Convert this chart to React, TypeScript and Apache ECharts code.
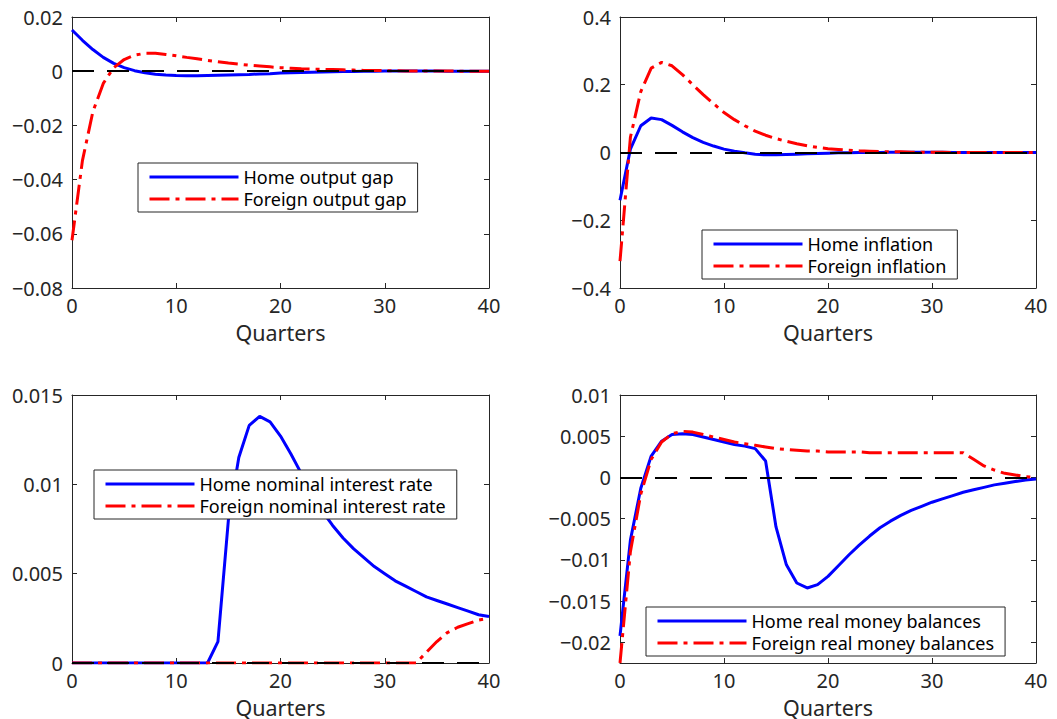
import React, { useEffect, useRef } from 'react';
import * as echarts from 'echarts';

// ---------- data ----------
const QUARTERS: number[] = Array.from({ length: 41 }, (_, i) => i);

const HOME_OUTPUT_GAP = [
  0.0152, 0.0114, 0.0080, 0.0051, 0.0029, 0.0013, 0.0002, -0.0006, -0.0011, -0.0014, -0.0016,
  -0.0017, -0.0017, -0.0016, -0.0015, -0.0014, -0.0013, -0.0012, -0.0010, -0.0009, -0.0007,
  -0.0006, -0.0005, -0.0004, -0.0003, -0.0002, -0.0001, -0.0001, 0.0, 0.0, 0.0001,
  0.0001, 0.0001, 0.0001, 0.0001, 0.0001, 0.0, 0.0, 0.0, 0.0, 0.0,
];
const FOREIGN_OUTPUT_GAP = [
  -0.0624, -0.0330, -0.0150, -0.0045, 0.0013, 0.0043, 0.0059, 0.0066, 0.0066, 0.0062, 0.0057,
  0.0051, 0.0046, 0.0040, 0.0035, 0.0030, 0.0026, 0.0022, 0.0019, 0.0016, 0.0013,
  0.0011, 0.0009, 0.0008, 0.0007, 0.0006, 0.0005, 0.0004, 0.0003, 0.0003, 0.0002,
  0.0002, 0.0001, 0.0001, 0.0001, 0.0001, 0.0001, 0.0, 0.0, 0.0, 0.0,
];
const HOME_INFLATION = [
  -0.141, 0.010, 0.079, 0.102, 0.097, 0.080, 0.061, 0.044, 0.030, 0.019, 0.010,
  0.004, -0.001, -0.005, -0.007, -0.007, -0.006, -0.005, -0.004, -0.003, -0.002,
  -0.001, -0.001, 0.0, 0.0, 0.0, 0.001, 0.001, 0.001, 0.001, 0.001,
  0.001, 0.0, 0.0, 0.0, 0.0, 0.0, 0.0, 0.0, 0.0, 0.0,
];
const FOREIGN_INFLATION = [
  -0.321, 0.045, 0.180, 0.249, 0.266, 0.256, 0.230, 0.200, 0.171, 0.144, 0.118,
  0.097, 0.079, 0.063, 0.051, 0.041, 0.033, 0.026, 0.020, 0.015, 0.011,
  0.009, 0.007, 0.005, 0.004, 0.003, 0.002, 0.002, 0.001, 0.001, 0.001,
  0.001, 0.0, 0.0, 0.0, 0.0, 0.0, 0.0, 0.0, 0.0, 0.0,
];
const HOME_NOMINAL_RATE = [
  0, 0, 0, 0, 0, 0, 0, 0, 0, 0, 0,
  0, 0, 0, 0.0012, 0.0080, 0.0115, 0.0133, 0.0138, 0.0135, 0.0127,
  0.0117, 0.0106, 0.0095, 0.0085, 0.0077, 0.0070, 0.0064, 0.0059, 0.0054, 0.0050,
  0.0046, 0.0043, 0.0040, 0.0037, 0.0035, 0.0033, 0.0031, 0.0029, 0.0027, 0.0026,
];
const FOREIGN_NOMINAL_RATE = [
  0, 0, 0, 0, 0, 0, 0, 0, 0, 0, 0,
  0, 0, 0, 0, 0, 0, 0, 0, 0, 0,
  0, 0, 0, 0, 0, 0, 0, 0, 0, 0,
  0, 0, 0, 0.0006, 0.0012, 0.0017, 0.0020, 0.0022, 0.0024, 0.0025,
];
const HOME_REAL_MONEY = [
  -0.0192, -0.0076, -0.0013, 0.0026, 0.0044, 0.0052, 0.0053, 0.0052, 0.0049, 0.0046, 0.0043,
  0.0040, 0.0038, 0.0035, 0.0020, -0.0060, -0.0106, -0.0128, -0.0134, -0.0130, -0.0120,
  -0.0107, -0.0094, -0.0082, -0.0071, -0.0061, -0.0053, -0.0046, -0.0040, -0.0035, -0.0030,
  -0.0026, -0.0022, -0.0018, -0.0015, -0.0012, -0.0009, -0.0007, -0.0005, -0.0003, -0.0002,
];
const FOREIGN_REAL_MONEY = [
  -0.0225, -0.0090, -0.0020, 0.0022, 0.0043, 0.0053, 0.0056, 0.0055, 0.0052, 0.0049, 0.0046,
  0.0043, 0.0041, 0.0039, 0.0037, 0.0035, 0.0034, 0.0033, 0.0032, 0.0032, 0.0031,
  0.0031, 0.0031, 0.0031, 0.0030, 0.0030, 0.0030, 0.0030, 0.0030, 0.0030, 0.0030,
  0.0030, 0.0030, 0.0030, 0.0022, 0.0014, 0.0009, 0.0005, 0.0003, 0.0001, 0.0,
];

const X_TICKS = [0, 10, 20, 30, 40];
const Y_TICKS_OUTPUT = [-0.08, -0.06, -0.04, -0.02, 0, 0.02];
const Y_TICKS_INFLATION = [-0.4, -0.2, 0, 0.2, 0.4];
const Y_TICKS_RATE = [0, 0.005, 0.01, 0.015];
const Y_TICKS_MONEY = [-0.02, -0.015, -0.01, -0.005, 0, 0.005, 0.01];

const X_LABEL = 'Quarters';

// ---------- styling ----------
const FONT = '"Noto Sans", "DejaVu Sans", sans-serif';
const AXIS_COLOR = '#262626';
const BLUE = '#0000FF';
const RED = '#FF0000';

function fmt(v: number): string {
  const r = Math.round(v * 1e6) / 1e6;
  if (Math.abs(r) < 1e-12) return '0';
  return String(r).replace('-', '\u2212');
}

type Panel = {
  grid: { left: number; top: number; width: number; height: number };
  yTicks: number[];
  yMin: number;
  yMax: number;
  home: number[];
  foreign: number[];
  homeName: string;
  foreignName: string;
  legendPos: { left: number; top: number };
};

const PANELS: Panel[] = [
  {
    grid: { left: 72, top: 17, width: 417, height: 271 },
    yTicks: Y_TICKS_OUTPUT, yMin: -0.08, yMax: 0.02,
    home: HOME_OUTPUT_GAP, foreign: FOREIGN_OUTPUT_GAP,
    homeName: 'Home output gap', foreignName: 'Foreign output gap',
    legendPos: { left: 138, top: 163 },
  },
  {
    grid: { left: 620, top: 17, width: 416, height: 271 },
    yTicks: Y_TICKS_INFLATION, yMin: -0.4, yMax: 0.4,
    home: HOME_INFLATION, foreign: FOREIGN_INFLATION,
    homeName: 'Home inflation', foreignName: 'Foreign inflation',
    legendPos: { left: 702, top: 230 },
  },
  {
    grid: { left: 72, top: 395, width: 417, height: 271 },
    yTicks: Y_TICKS_RATE, yMin: 0, yMax: 0.015,
    home: HOME_NOMINAL_RATE, foreign: FOREIGN_NOMINAL_RATE,
    homeName: 'Home nominal interest rate', foreignName: 'Foreign nominal interest rate',
    legendPos: { left: 94, top: 470 },
  },
  {
    grid: { left: 620, top: 395, width: 416, height: 271 },
    yTicks: Y_TICKS_MONEY, yMin: -0.0225, yMax: 0.01,
    home: HOME_REAL_MONEY, foreign: FOREIGN_REAL_MONEY,
    homeName: 'Home real money balances', foreignName: 'Foreign real money balances',
    legendPos: { left: 646, top: 607 },
  },
];

function buildOption() {
  const grids: any[] = [];
  const xAxes: any[] = [];
  const yAxes: any[] = [];
  const series: any[] = [];
  const legends: any[] = [];

  PANELS.forEach((p, i) => {
    grids.push({ ...p.grid, containLabel: false, show: false });

    const step = p.yTicks[1] - p.yTicks[0];
    const tickSet = p.yTicks;
    const yLabelFmt = (v: number) => {
      const hit = tickSet.some((t) => Math.abs(t - v) < step * 1e-4);
      return hit ? fmt(v) : '';
    };

    const xCommon = {
      type: 'value',
      gridIndex: i,
      min: X_TICKS[0],
      max: X_TICKS[X_TICKS.length - 1],
      interval: X_TICKS[1] - X_TICKS[0],
      splitLine: { show: false },
      axisLine: { show: true, onZero: false, lineStyle: { color: AXIS_COLOR, width: 1 } },
      axisTick: { show: true, inside: true, length: 5, lineStyle: { color: AXIS_COLOR, width: 1 } },
    };
    xAxes.push({
      ...xCommon,
      position: 'bottom',
      axisLabel: { show: true, color: AXIS_COLOR, fontSize: 20, fontFamily: FONT, margin: 7 },
      name: X_LABEL,
      nameLocation: 'middle',
      nameGap: 33,
      nameTextStyle: { color: AXIS_COLOR, fontSize: 21.5, fontFamily: FONT },
    });
    xAxes.push({ ...xCommon, position: 'top', axisLabel: { show: false } });

    const yCommon: any = {
      type: 'value',
      gridIndex: i,
      min: p.yMin,
      max: p.yMax,
      minInterval: step,
      maxInterval: step,
      splitLine: { show: false },
      axisLine: { show: true, onZero: false, lineStyle: { color: AXIS_COLOR, width: 1 } },
      axisTick: { show: true, inside: true, length: 5, lineStyle: { color: AXIS_COLOR, width: 1 } },
    };
    yAxes.push({
      ...yCommon,
      position: 'left',
      axisLabel: { show: true, color: AXIS_COLOR, fontSize: 20, fontFamily: FONT, margin: 9, formatter: yLabelFmt },
    });
    yAxes.push({ ...yCommon, position: 'right', axisLabel: { show: false } });

    series.push({
      name: p.homeName,
      type: 'line',
      xAxisIndex: 2 * i,
      yAxisIndex: 2 * i,
      data: QUARTERS.map((q, k) => [q, p.home[k]]),
      symbol: 'none',
      showSymbol: false,
      silent: true,
      lineStyle: { color: BLUE, width: 3, type: 'solid' },
      itemStyle: { color: BLUE },
      z: 2,
    });
    series.push({
      name: p.foreignName,
      type: 'line',
      xAxisIndex: 2 * i,
      yAxisIndex: 2 * i,
      data: QUARTERS.map((q, k) => [q, p.foreign[k]]),
      symbol: 'none',
      showSymbol: false,
      silent: true,
      lineStyle: { color: RED, width: 3, type: [20, 6, 4, 6] },
      itemStyle: { color: RED },
      z: 3,
      markLine: {
        silent: true,
        symbol: 'none',
        label: { show: false },
        lineStyle: { color: '#000000', width: 2, type: [22, 13] },
        emphasis: { disabled: true },
        data: [{ yAxis: 0 }],
        z: 4,
      },
    });

    legends.push({
      show: true,
      data: [p.homeName, p.foreignName],
      left: p.legendPos.left,
      top: p.legendPos.top,
      orient: 'vertical',
      itemWidth: 89,
      itemHeight: 14,
      itemGap: 4,
      padding: [5, 11, 4, 10],
      borderColor: AXIS_COLOR,
      borderWidth: 1,
      borderRadius: 0,
      backgroundColor: '#ffffff',
      selectedMode: false,
      textStyle: { fontSize: 18, color: '#000000', fontFamily: FONT },
      lineStyle: { width: 3 },
      itemStyle: { opacity: 0, borderWidth: 0 },
      z: 10,
    });
  });

  return {
    animation: false,
    backgroundColor: '#ffffff',
    textStyle: { fontFamily: FONT },
    grid: grids,
    xAxis: xAxes,
    yAxis: yAxes,
    legend: legends,
    series,
  };
}

export default function App() {
  const ref = useRef<HTMLDivElement>(null);
  useEffect(() => {
    if (!ref.current) return;
    const chart = echarts.init(ref.current, undefined, { renderer: 'svg' });
    chart.setOption(buildOption() as any);
    return () => chart.dispose();
  }, []);
  return (
    <div
      ref={ref}
      style={{ position: 'absolute', left: 0, top: 0, width: 1057, height: 719, background: '#fff' }}
    />
  );
}
